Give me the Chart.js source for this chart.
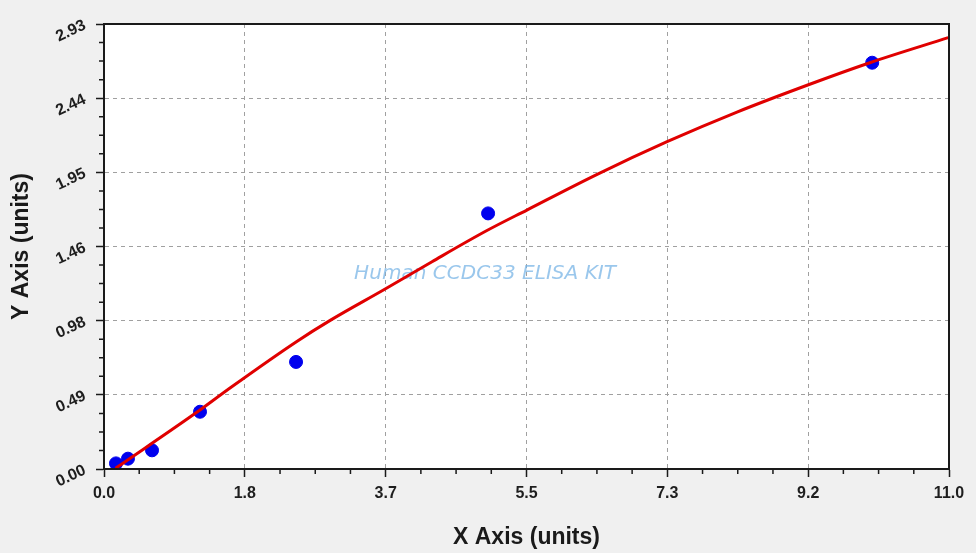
<!DOCTYPE html>
<html>
<head>
<meta charset="utf-8">
<script src="https://cdn.jsdelivr.net/npm/chart.js@4.4.1/dist/chart.umd.min.js"></script>
<style>
  html, body { margin: 0; padding: 0; background: #f0f0f0; }
  #wrap { width: 976px; height: 553px; position: relative; }
</style>
</head>
<body>
<div id="wrap"><canvas id="c" width="976" height="553"></canvas></div>
<script>
// ---- data ----
const pointX = [0.156, 0.312, 0.625, 1.25, 2.5, 5, 10];
const pointY = [0.037, 0.068, 0.123, 0.377, 0.705, 1.683, 2.675];

const curveX = [0.15, 1.24, 1.645, 2.51, 2.95, 3.66, 4.27, 4.985, 5.505, 6.42, 7.33, 8.24, 9.17, 9.97, 10.99];
const curveY = [0.005, 0.385, 0.535, 0.84, 0.98, 1.185, 1.365, 1.57, 1.705, 1.94, 2.155, 2.35, 2.53, 2.675, 2.84];

const xTickLabels = ['0.0', '1.8', '3.7', '5.5', '7.3', '9.2', '11.0'];
const yTickLabels = ['0.00', '0.49', '0.98', '1.46', '1.95', '2.44', '2.93'];
const xMax = 11.0;
const yMax = 2.93;

const xTitle = 'X Axis (units)';
const yTitle = 'Y Axis (units)';
const watermark = 'Human CCDC33 ELISA KIT';

// ---- helpers ----
const toXY = (xs, ys) => xs.map((x, i) => ({ x: x, y: ys[i] }));
const FONT = '"Liberation Sans", Arial, sans-serif';

const decor = {
  id: 'decor',
  beforeDraw(chart) {
    const { ctx, chartArea: a } = chart;
    ctx.save();
    ctx.fillStyle = '#f0f0f0';
    ctx.fillRect(0, 0, chart.width, chart.height);
    ctx.fillStyle = '#ffffff';
    ctx.fillRect(a.left, a.top, a.right - a.left, a.bottom - a.top);
    ctx.restore();
  },
  beforeDatasetsDraw(chart) {
    const { ctx, scales } = chart;
    ctx.save();
    ctx.fillStyle = 'rgba(120,180,230,0.75)';
    let size = 18;
    ctx.font = 'italic ' + size + 'px "DejaVu Sans", sans-serif';
    const w = ctx.measureText(watermark).width;
    size = size * 262 / w;
    ctx.font = 'italic ' + size + 'px "DejaVu Sans", sans-serif';
    ctx.textAlign = 'center';
    ctx.textBaseline = 'middle';
    ctx.fillText(watermark, scales.x.getPixelForValue(4.96), scales.y.getPixelForValue(1.285));
    ctx.restore();
  },
  afterDraw(chart) {
    const { ctx, chartArea: a, scales } = chart;
    const xs = scales.x, ys = scales.y;
    ctx.save();
    // frame
    ctx.strokeStyle = '#1a1a1a';
    ctx.lineWidth = 2;
    ctx.strokeRect(a.left, a.top, a.right - a.left, a.bottom - a.top);
    // minor ticks
    ctx.lineWidth = 1.5;
    ctx.beginPath();
    for (let k = 1; k < 24; k++) {
      if (k % 4 === 0) continue;
      const px = xs.getPixelForValue(xMax * k / 24);
      ctx.moveTo(px, a.bottom);
      ctx.lineTo(px, a.bottom + 5);
      const py = ys.getPixelForValue(yMax * k / 24);
      ctx.moveTo(a.left, py);
      ctx.lineTo(a.left - 5, py);
    }
    ctx.stroke();
    // rotated y tick labels
    ctx.fillStyle = '#1e1e1e';
    ctx.font = 'bold 16px ' + FONT;
    ctx.textAlign = 'right';
    ctx.textBaseline = 'middle';
    ys.ticks.forEach((t, i) => {
      const py = ys.getPixelForValue(t.value);
      ctx.save();
      ctx.translate(a.left - 19, py + 0.5);
      ctx.rotate(-25 * Math.PI / 180);
      ctx.fillText(yTickLabels[i], 0, 0);
      ctx.restore();
    });
    // axis titles
    ctx.font = 'bold 23px ' + FONT;
    ctx.textAlign = 'center';
    ctx.textBaseline = 'middle';
    ctx.fillStyle = '#1a1a1a';
    ctx.fillText(xTitle, (a.left + a.right) / 2, 538);
    ctx.save();
    ctx.translate(22, (a.top + a.bottom) / 2);
    ctx.rotate(-Math.PI / 2);
    ctx.fillText(yTitle, 0, 0);
    ctx.restore();
    ctx.restore();
  }
};

new Chart(document.getElementById('c'), {
  type: 'scatter',
  data: {
    datasets: [
      {
        type: 'line',
        label: 'fit',
        data: toXY(curveX, curveY),
        borderColor: '#e00000',
        borderWidth: 3,
        pointRadius: 0,
        fill: false,
        tension: 0.4,
        cubicInterpolationMode: 'monotone',
        order: 0
      },
      {
        label: 'standards',
        data: toXY(pointX, pointY),
        backgroundColor: '#0000ee',
        borderColor: '#0000ee',
        pointRadius: 6.5,
        pointHoverRadius: 6.5,
        order: 1
      }
    ]
  },
  options: {
    responsive: false,
    animation: false,
    events: [],
    layout: { padding: { left: 0, right: 27, top: 24, bottom: 0 } },
    plugins: { legend: { display: false }, tooltip: { enabled: false } },
    scales: {
      x: {
        type: 'linear',
        min: 0, max: xMax,
        afterBuildTicks(s) { s.ticks = xTickLabels.map((l, i) => ({ value: xMax * i / (xTickLabels.length - 1) })); },
        afterFit(s) { s.height = 84; },
        ticks: {
          callback: (v, i) => xTickLabels[i],
          color: '#1e1e1e',
          font: { family: FONT, size: 16, weight: 'bold' },
          padding: 7,
          maxRotation: 0, minRotation: 0,
          autoSkip: false
        },
        grid: { color: '#a0a0a0', lineWidth: 1, tickLength: 8, tickColor: '#1a1a1a', tickWidth: 1.5 },
        border: { display: true, color: '#1a1a1a', width: 2, dash: [4, 4] }
      },
      y: {
        type: 'linear',
        min: 0, max: yMax,
        afterBuildTicks(s) { s.ticks = yTickLabels.map((l, i) => ({ value: yMax * i / (yTickLabels.length - 1) })); },
        afterFit(s) { s.width = 104; },
        ticks: { display: false, autoSkip: false },
        grid: { color: '#a0a0a0', lineWidth: 1, tickLength: 8, tickColor: '#1a1a1a', tickWidth: 1.5 },
        border: { display: true, color: '#1a1a1a', width: 2, dash: [4, 4] }
      }
    }
  },
  plugins: [decor]
});
</script>
</body>
</html>
